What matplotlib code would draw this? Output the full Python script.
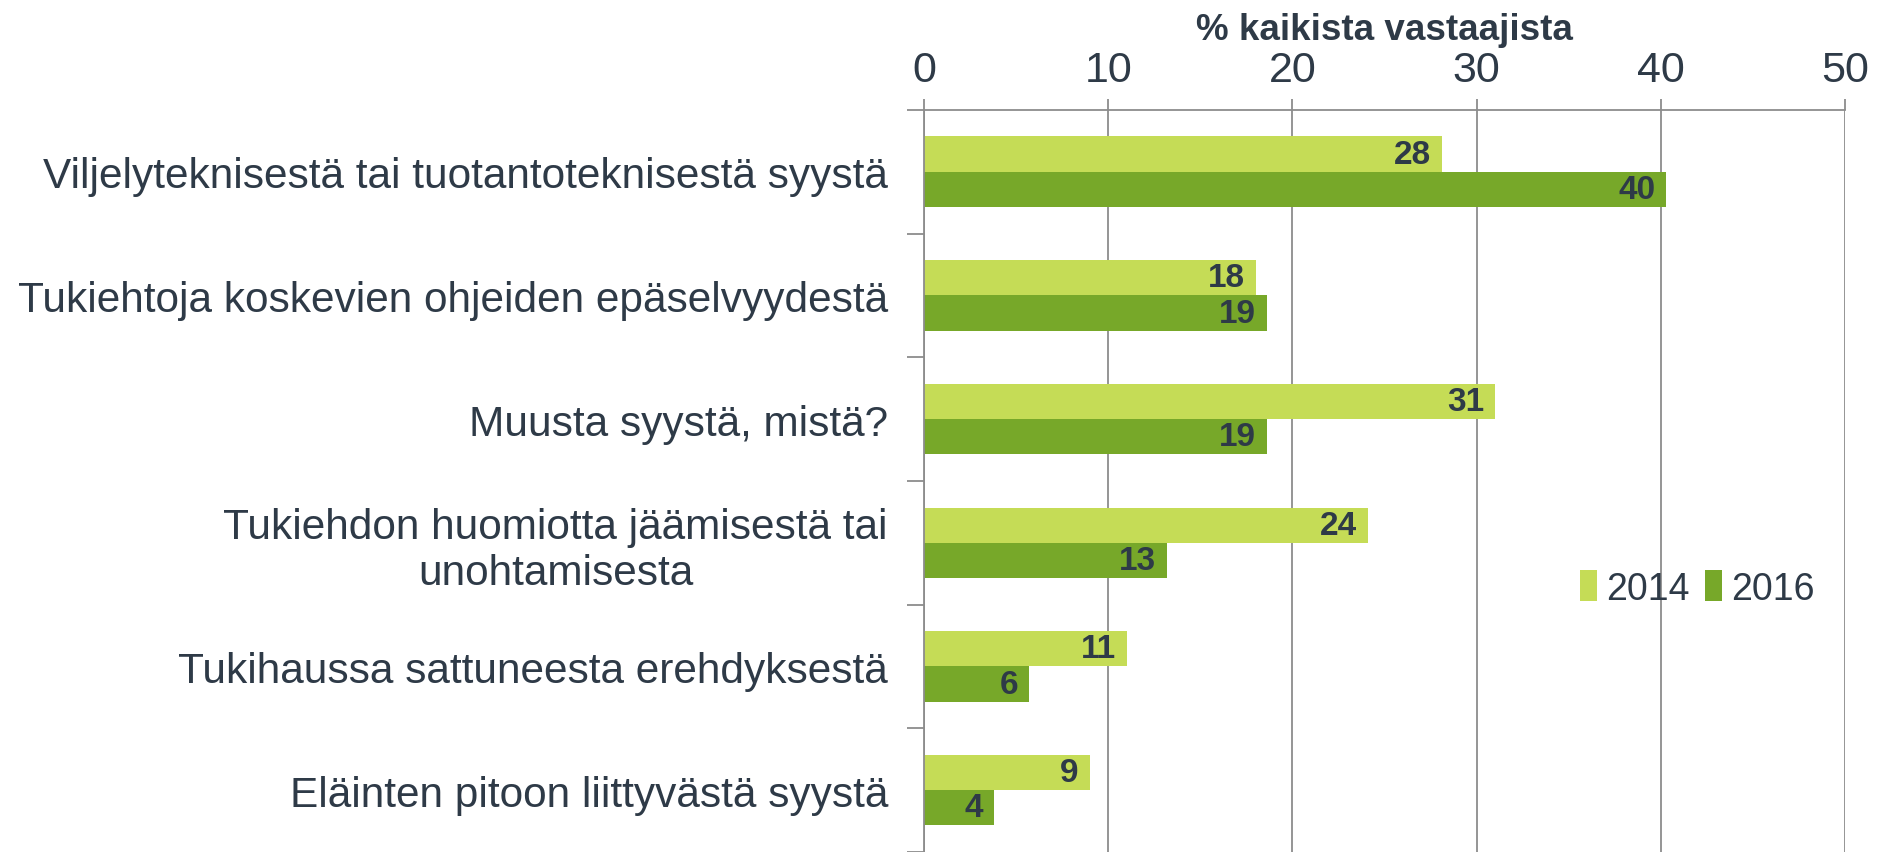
import numpy as np
import matplotlib.pyplot as plt

plt.rcParams['font.family'] = ['Liberation Sans', 'DejaVu Sans']

# Vastausvaihtoehdot ja osuudet (% kaikista vastaajista)
categories = [
    'Viljelyteknisestä tai tuotantoteknisestä syystä',
    'Tukiehtoja koskevien ohjeiden epäselvyydestä',
    'Muusta syystä, mistä?',
    'Tukiehdon huomiotta jäämisestä tai\nunohtamisesta',
    'Tukihaussa sattuneesta erehdyksestä',
    'Eläinten pitoon liittyvästä syystä',
]
values_2014 = [28.1, 18.0, 31.0, 24.1, 11.0, 9.0]
values_2016 = [40.3, 18.6, 18.6, 13.2, 5.7, 3.8]
labels_2014 = ['28', '18', '31', '24', '11', '9']
labels_2016 = ['40', '19', '19', '13', '6', '4']
years = ['2014', '2016']

TEXT = '#2E3A47'
GRID = '#8C8C8C'
C14 = '#C5DC56'
C16 = '#77A829'

fig = plt.figure(figsize=(18.87, 8.53), dpi=100)
ax = fig.add_axes([0.4897, 0.0, 0.488, 0.870])

y = np.arange(len(categories))
h = 0.285
b1 = ax.barh(y - h / 2, values_2014, height=h, color=C14, label=years[0])
b2 = ax.barh(y + h / 2, values_2016, height=h, color=C16, label=years[1])

# arvot palkkien päähän
for bars, labs in ((b1, labels_2014), (b2, labels_2016)):
    for bar, lab in zip(bars, labs):
        ax.text(bar.get_width() - 0.6, bar.get_y() + bar.get_height() / 2, lab,
                ha='right', va='center', fontsize=24, fontweight='bold', color=TEXT)

ax.set_xlim(0, 50)
ax.set_ylim(len(categories) - 0.5, -0.5)
ax.set_xticks(range(0, 51, 10))
ax.xaxis.tick_top()
ax.xaxis.set_label_position('top')
ax.set_xlabel('% kaikista vastaajista', fontsize=26.5, fontweight='bold',
              color=TEXT, labelpad=8)
ax.tick_params(axis='x', colors=GRID, labelcolor=TEXT, labelsize=31,
               length=8, width=1.3, pad=6)
ax.grid(axis='x', color=GRID, linewidth=1.3)
ax.set_axisbelow(True)

ax.set_yticks(y)
ax.set_yticklabels(categories, fontsize=30.5, color=TEXT, multialignment='center')
ax.set_yticks(np.arange(-0.5, len(categories)), minor=True)
ax.tick_params(axis='y', which='major', length=0, pad=26)
ax.tick_params(axis='y', which='minor', length=12, width=1.3, color=GRID)

for side in ('right', 'bottom'):
    ax.spines[side].set_visible(False)
for side in ('top', 'left'):
    ax.spines[side].set_color(GRID)
    ax.spines[side].set_linewidth(1.3)

ax.legend(loc='center', bbox_to_anchor=(0.84, 0.355), ncol=2, frameon=False,
          fontsize=27, handlelength=0.45, handleheight=0.9, handletextpad=0.25,
          columnspacing=0.4, labelcolor=TEXT)

fig.savefig('out.png', dpi=100)
